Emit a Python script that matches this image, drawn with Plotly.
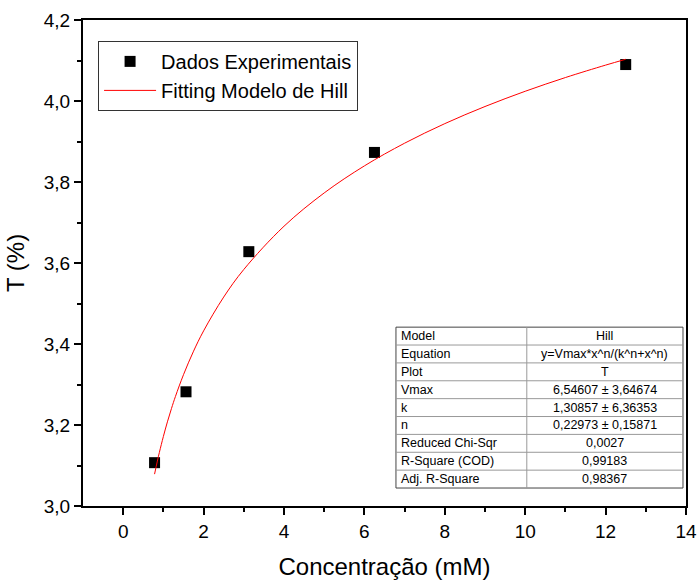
import plotly.graph_objects as go

# Experimental data
conc = [0.78, 1.5625, 3.125, 6.25, 12.5]
trans = [3.107, 3.282, 3.628, 3.873, 4.090]

# Fitted Hill curve (values read from the drawn fit)
fit_x = [0.78, 0.85, 0.9, 1.0, 1.1, 1.2, 1.3, 1.5, 1.75, 2.0, 2.5, 3.0, 4.0, 5.0, 6.0, 7.0, 8.0, 9.0, 10.0, 11.0, 12.0, 12.5]
fit_y = [3.0787, 3.1109, 3.1324, 3.1719, 3.2078, 3.2405, 3.2706, 3.3243, 3.3823, 3.4324, 3.5159, 3.5840,
         3.6908, 3.7730, 3.8398, 3.8958, 3.9441, 3.9864, 4.0240, 4.0579, 4.0886, 4.1030]

# Fit results table
table_labels = ["Model", "Equation", "Plot", "Vmax", "k", "n", "Reduced Chi-Sqr", "R-Square (COD)", "Adj. R-Square"]
table_values = ["Hill", "y=Vmax*x^n/(k^n+x^n)", "T", "6,54607 ± 3,64674", "1,30857 ± 6,36353",
                "0,22973 ± 0,15871", "0,0027", "0,99183", "0,98367"]

FONT = "Liberation Sans, Arial, sans-serif"

fig = go.Figure()
fig.add_trace(go.Scatter(x=conc, y=trans, mode="markers", name="Dados Experimentais",
                         marker=dict(symbol="square", size=11, color="black")))
fig.add_trace(go.Scatter(x=fit_x, y=fit_y, mode="lines", name="Fitting Modelo de Hill",
                         line=dict(color="red", width=1), line_shape="spline"))

# Table geometry (paper coords)
tx0, tx1, tdiv = 0.519, 0.995, 0.736
ty_top, ty_bot = 0.368, 0.037
n = len(table_labels)
rh = (ty_top - ty_bot) / n
shapes = []
shapes.append(dict(type="rect", xref="paper", yref="paper", x0=tx0, x1=tx1, y0=ty_bot, y1=ty_top,
                   line=dict(color="#444", width=1), fillcolor="white", layer="above"))
shapes.append(dict(type="line", xref="paper", yref="paper", x0=tdiv, x1=tdiv, y0=ty_bot, y1=ty_top,
                   line=dict(color="#999", width=1), layer="above"))
for i in range(1, n):
    yy = ty_top - i * rh
    shapes.append(dict(type="line", xref="paper", yref="paper", x0=tx0, x1=tx1, y0=yy, y1=yy,
                       line=dict(color="#999", width=1), layer="above"))
annotations = []
for i, (lab, val) in enumerate(zip(table_labels, table_values)):
    yc = ty_top - (i + 0.5) * rh
    annotations.append(dict(xref="paper", yref="paper", x=tx0 + 0.005, y=yc, text=lab, showarrow=False,
                            xanchor="left", yanchor="middle", font=dict(family=FONT, size=12.5, color="black")))
    annotations.append(dict(xref="paper", yref="paper", x=(tdiv + tx1) / 2, y=yc, text=val, showarrow=False,
                            xanchor="center", yanchor="middle", font=dict(family=FONT, size=12.5, color="black")))

fig.update_layout(
    width=699, height=580,
    margin=dict(l=83, r=13, t=20, b=74),
    paper_bgcolor="white", plot_bgcolor="white",
    separators=",.",
    font=dict(family=FONT, color="black"),
    showlegend=True,
    legend=dict(x=0.025, y=0.957, xanchor="left", yanchor="top", bgcolor="white",
                bordercolor="#333", borderwidth=1, font=dict(family=FONT, size=20, color="black"),
                tracegroupgap=0, itemwidth=52),
    shapes=shapes, annotations=annotations,
    xaxis=dict(range=[-1, 14], tickvals=[0, 2, 4, 6, 8, 10, 12, 14], showgrid=False, zeroline=False,
               automargin=False,
               showline=True, linecolor="black", linewidth=2, mirror=True,
               ticks="outside", ticklen=7, tickwidth=1.5, tickcolor="black",
               tickfont=dict(family=FONT, size=19),
               minor=dict(tickvals=[1, 3, 5, 7, 9, 11, 13], ticks="outside", ticklen=4, tickwidth=1.5, tickcolor="black"),
               title=dict(text="Concentração (mM)", font=dict(family=FONT, size=24), standoff=18)),
    yaxis=dict(range=[3.0, 4.2], tickvals=[3.0, 3.2, 3.4, 3.6, 3.8, 4.0, 4.2], tickformat=".1f",
               showgrid=False, zeroline=False, automargin=False,
               showline=True, linecolor="black", linewidth=2, mirror=True,
               ticks="outside", ticklen=7, tickwidth=1.5, tickcolor="black",
               tickfont=dict(family=FONT, size=19),
               minor=dict(tickvals=[3.1, 3.3, 3.5, 3.7, 3.9, 4.1], ticks="outside", ticklen=4, tickwidth=1.5, tickcolor="black"),
               title=dict(text="T (%)", font=dict(family=FONT, size=24), standoff=12)),
)

fig.write_html("out.html")
